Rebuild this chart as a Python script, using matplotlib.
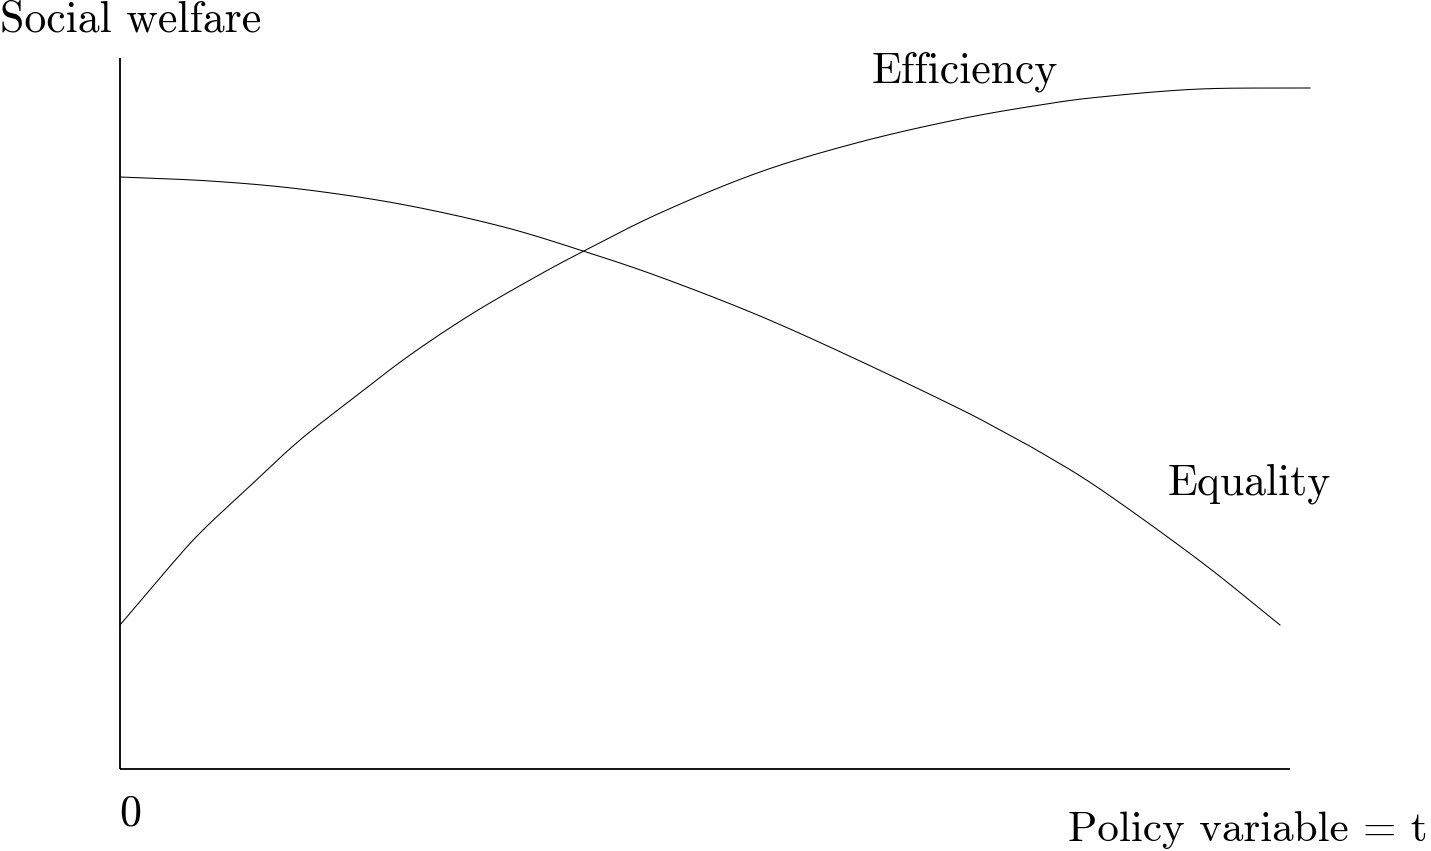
import numpy as np
import matplotlib.pyplot as plt

# policy variable t (axis units) and the two welfare curves
t_eff = [0, 0.45, 0.8, 1.3, 1.8, 2.4, 2.9, 3.5, 4.1, 4.6, 5.4, 6.4, 7.4, 8.4, 9.2, 9.8, 10.8, 11.9]
efficiency = [1.44, 1.97, 2.36, 2.83, 3.29, 3.76, 4.14, 4.54, 4.89, 5.16, 5.56, 5.97, 6.27,
              6.50, 6.64, 6.72, 6.80, 6.81]

t_eq = [0, 0.9, 1.8, 2.8, 3.8, 4.6, 5.4, 6.4, 7.4, 8.4, 8.8, 9.2, 9.8, 10.8, 11.6]
equality = [5.92, 5.88, 5.80, 5.65, 5.43, 5.19, 4.92, 4.53, 4.08, 3.60, 3.39, 3.17, 2.80, 2.08, 1.44]

x_end = 11.7
y_end = 7.11


def smooth(xs, ys, n=20):
    # catmull-rom curve through the read points, just to draw a smooth line
    p = np.column_stack([xs, ys]).astype(float)
    p = np.vstack([2 * p[0] - p[1], p, 2 * p[-1] - p[-2]])
    out = []
    s = np.linspace(0, 1, n, endpoint=False)[:, None]
    for i in range(1, len(p) - 2):
        p0, p1, p2, p3 = p[i - 1], p[i], p[i + 1], p[i + 2]
        seg = 0.5 * (2 * p1 + (-p0 + p2) * s + (2 * p0 - 5 * p1 + 4 * p2 - p3) * s ** 2
                     + (-p0 + 3 * p1 - 3 * p2 + p3) * s ** 3)
        out.append(seg)
    out.append(p[-2][None, :])
    out = np.vstack(out)
    return out[:, 0], out[:, 1]


W, H = 1431, 851
fig = plt.figure(figsize=(W / 100, H / 100), dpi=100)
ax = fig.add_axes([0, 0, 1, 1])
ax.set_xlim(-1.2, 13.11)
ax.set_ylim(-0.82, 7.69)
ax.axis('off')

# axes
ax.plot([0, 0], [0, y_end], color='k', lw=1.3, solid_capstyle='butt')
ax.plot([0, x_end], [0, 0], color='k', lw=1.3, solid_capstyle='butt')

ax.plot(*smooth(t_eff, efficiency), color='k', lw=0.75)
ax.plot(*smooth(t_eq, equality), color='k', lw=0.75)

fs = 31.5
font = dict(family='cmr10', color='k')
fig.text(0 / W, 1 - 31 / H, 'Social welfare', ha='left', va='baseline', fontsize=fs, **font)
fig.text(872 / W, 1 - 83 / H, 'Efficiency', ha='left', va='baseline', fontsize=fs, **font)
fig.text(1168 / W, 1 - 494 / H, 'Equality', ha='left', va='baseline', fontsize=fs, **font)
fig.text(119 / W, 1 - 825 / H, '0', ha='left', va='baseline', fontsize=fs, **font)
fig.text(1428 / W, 1 - 841 / H, 'Policy variable = t', ha='right', va='baseline',
         fontsize=31, **font)

fig.savefig('out.png', dpi=100, facecolor='white')
